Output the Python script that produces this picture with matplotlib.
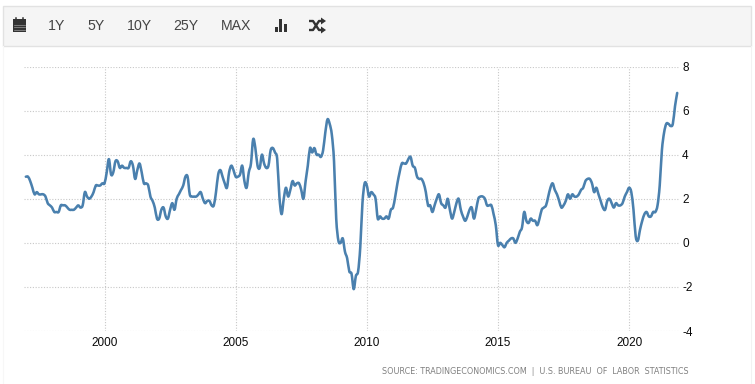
import numpy as np
import matplotlib
matplotlib.use("Agg")
import matplotlib.pyplot as plt
from matplotlib.patches import Rectangle, Polygon, PathPatch
from matplotlib.path import Path
from matplotlib.ticker import FixedLocator

START_YEAR = 1997
values = [
    3.0, 3.0, 2.8, 2.5, 2.2, 2.3, 2.2, 2.2, 2.2, 2.1, 1.8, 1.7,
    1.6, 1.4, 1.4, 1.4, 1.7, 1.7, 1.7, 1.6, 1.5, 1.5, 1.5, 1.6,
    1.7, 1.6, 1.7, 2.3, 2.1, 2.0, 2.1, 2.3, 2.6, 2.6, 2.6, 2.7,
    2.7, 3.2, 3.8, 3.1, 3.2, 3.7, 3.7, 3.4, 3.5, 3.4, 3.4, 3.4,
    3.7, 3.5, 2.9, 3.3, 3.6, 3.2, 2.7, 2.7, 2.6, 2.1, 1.9, 1.6,
    1.1, 1.1, 1.5, 1.6, 1.2, 1.1, 1.5, 1.8, 1.5, 2.0, 2.2, 2.4,
    2.6, 3.0, 3.0, 2.2, 2.1, 2.1, 2.1, 2.2, 2.3, 2.0, 1.8, 1.9,
    1.9, 1.7, 1.7, 2.3, 3.1, 3.3, 3.0, 2.7, 2.5, 3.2, 3.5, 3.3,
    3.0, 3.0, 3.1, 3.5, 2.8, 2.5, 3.2, 3.6, 4.7, 4.3, 3.5, 3.4,
    4.0, 3.6, 3.4, 3.5, 4.2, 4.3, 4.1, 3.8, 2.1, 1.3, 2.0, 2.5,
    2.1, 2.4, 2.8, 2.6, 2.7, 2.7, 2.4, 2.0, 2.8, 3.5, 4.3, 4.1,
    4.3, 4.0, 4.0, 3.9, 4.2, 5.0, 5.6, 5.4, 4.9, 3.7, 1.1, 0.1,
    0.0, 0.2, -0.4, -0.7, -1.3, -1.4, -2.1, -1.5, -1.3, -0.2, 1.8, 2.7,
    2.6, 2.1, 2.3, 2.2, 2.0, 1.1, 1.2, 1.1, 1.1, 1.2, 1.1, 1.5,
    1.6, 2.1, 2.7, 3.2, 3.6, 3.6, 3.6, 3.8, 3.9, 3.5, 3.4, 3.0,
    2.9, 2.9, 2.7, 2.3, 1.7, 1.7, 1.4, 1.7, 2.0, 2.2, 1.8, 1.7,
    1.6, 2.0, 1.5, 1.1, 1.4, 1.8, 2.0, 1.5, 1.2, 1.0, 1.2, 1.5,
    1.6, 1.1, 1.5, 2.0, 2.1, 2.1, 2.0, 1.7, 1.7, 1.7, 1.3, 0.8,
    -0.1, 0.0, -0.1, -0.2, 0.0, 0.1, 0.2, 0.2, 0.0, 0.2, 0.5, 0.7,
    1.4, 1.0, 0.9, 1.1, 1.0, 1.0, 0.8, 1.1, 1.5, 1.6, 1.7, 2.1,
    2.5, 2.7, 2.4, 2.2, 1.9, 1.6, 1.7, 1.9, 2.2, 2.0, 2.2, 2.1,
    2.1, 2.2, 2.4, 2.5, 2.8, 2.9, 2.9, 2.7, 2.3, 2.5, 2.2, 1.9,
    1.6, 1.5, 1.9, 2.0, 1.8, 1.6, 1.8, 1.7, 1.7, 1.8, 2.1, 2.3,
    2.5, 2.3, 1.5, 0.3, 0.1, 0.6, 1.0, 1.3, 1.4, 1.2, 1.2, 1.4,
    1.4, 1.7, 2.6, 4.2, 5.0, 5.4, 5.4, 5.3, 5.4, 6.2, 6.8,
]
x_ticks = [2000, 2005, 2010, 2015, 2020]
y_ticks = [-4, -2, 0, 2, 4, 6, 8]
range_buttons = ["1Y", "5Y", "10Y", "25Y", "MAX"]
source_text = "SOURCE: TRADINGECONOMICS.COM  |  U.S. BUREAU  OF  LABOR  STATISTICS"

W, H = 755, 384
plt.rcParams["font.family"] = ["Liberation Sans", "DejaVu Sans"]
fig = plt.figure(figsize=(W / 100, H / 100), dpi=100, facecolor="white")

ov = fig.add_axes([0, 0, 1, 1], zorder=0)
ov.set_xlim(0, W)
ov.set_ylim(H, 0)
ov.axis("off")
ov.add_patch(Rectangle((2.5, 5.5), 748, 40.5, fc="#f5f5f5", ec="#e2e2e2", lw=1))
ov.plot([750.5, 750.5], [46, 384], color="#f2f2f2", lw=0.8)
ov.plot([2.5, 2.5], [46, 384], color="#f7f7f7", lw=0.8)

for label, cx in zip(range_buttons, [57, 96, 139, 186, 236]):
    ov.text(cx, 26, label, ha="center", va="center", fontsize=10.2, color="#444444")

ov.add_patch(Rectangle((12.5, 20), 13, 12, fc="#333333", ec="none"))
ov.add_patch(Rectangle((12.5, 18.5), 13, 4, fc="#333333", ec="none"))
for yy in (24.7, 27.2, 29.7):
    ov.plot([13.5, 24.5], [yy, yy], color="#999999", lw=0.5)
ov.plot([15.5, 15.5], [17.5, 19.5], color="#333333", lw=1.1)
ov.plot([22.5, 22.5], [17.5, 19.5], color="#333333", lw=1.1)

for bx, by in ((274.5, 27), (279, 19), (283.5, 23.5)):
    ov.add_patch(Rectangle((bx, by), 3.4, 32 - by, fc="#333333", ec="none"))

ov.plot([309, 313, 319, 322], [21, 21, 30, 30], color="#333333", lw=1.7, solid_capstyle="butt")
ov.plot([309, 313, 319, 322], [30, 30, 21, 21], color="#333333", lw=1.7, solid_capstyle="butt")
ov.add_patch(Polygon([(321, 17.5), (326, 21), (321, 24.5)], fc="#333333", ec="none"))
ov.add_patch(Polygon([(321, 26.5), (326, 30), (321, 33.5)], fc="#333333", ec="none"))

ov.text(688.5, 372, source_text, ha="right", va="center", fontsize=5.75,
        color="#808080", family="DejaVu Sans")

left, right, top, bottom = 24, 680, 66.5, 331
ax = fig.add_axes([left / W, 1 - bottom / H, (right - left) / W, (bottom - top) / H],
                  facecolor="none", zorder=1)
t = START_YEAR + np.arange(len(values)) / 12
v = np.asarray(values, dtype=float)

# spline-style smoothing through the monthly data, as the original chart draws it
slope = np.gradient(v, t)
dt = t[1] - t[0]
verts = [(t[0], v[0])]
codes = [Path.MOVETO]
for i in range(len(t) - 1):
    verts += [(t[i] + dt * 0.33, v[i] + slope[i] * dt * 0.33),
              (t[i + 1] - dt * 0.33, v[i + 1] - slope[i + 1] * dt * 0.33),
              (t[i + 1], v[i + 1])]
    codes += [Path.CURVE4] * 3
ax.add_patch(PathPatch(Path(verts, codes), fc="none", ec="#4a80ae", lw=1.85,
                       joinstyle="round", capstyle="round", zorder=3, clip_on=False))

ax.set_xlim(1996.93, 2021.94)
ax.set_ylim(-4, 8)
ax.xaxis.set_major_locator(FixedLocator(x_ticks))
ax.yaxis.set_major_locator(FixedLocator(y_ticks))
ax.yaxis.tick_right()
ax.set_xticklabels([str(v_) for v_ in x_ticks])
ax.set_yticklabels([str(v_) for v_ in y_ticks])
ax.tick_params(axis="both", length=0, labelsize=8.5, labelcolor="#0a0a0a")
ax.tick_params(axis="x", pad=4)
ax.tick_params(axis="y", pad=1.5)
ax.grid(True, color="#c8c8c8", lw=0.8, linestyle=(0, (1, 1.5)))
ax.set_axisbelow(True)
for s in ax.spines.values():
    s.set_visible(False)

fig.savefig("out.png", dpi=100, facecolor="white")
